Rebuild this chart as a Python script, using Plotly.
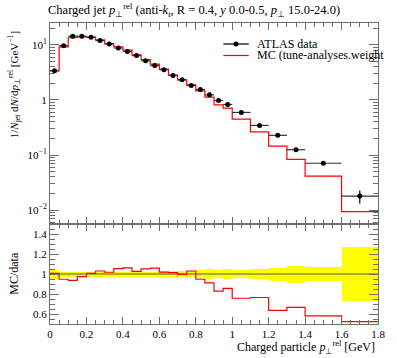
import plotly.graph_objects as go

# ---------------- data ----------------
bin_edges = [0.0, 0.05, 0.1, 0.15, 0.2, 0.25, 0.3, 0.35, 0.4, 0.45, 0.5, 0.55, 0.6,
             0.65, 0.7, 0.75, 0.8, 0.85, 0.9, 0.95, 1.0, 1.1, 1.2, 1.3, 1.4, 1.6, 1.8]
atlas_data = [3.38, 9.7, 14.4, 14.4, 13.8, 12.0, 10.4, 8.8, 7.6, 6.4, 5.15, 4.22, 3.55,
              2.78, 2.33, 1.83, 1.55, 1.24, 0.98, 0.83, 0.594, 0.345, 0.228, 0.125,
              0.071, 0.018]
atlas_rel_err = [0.045, 0.025, 0.025, 0.025, 0.025, 0.025, 0.025, 0.025, 0.025, 0.025,
                 0.025, 0.025, 0.035, 0.035, 0.03, 0.03, 0.04, 0.048, 0.04, 0.05,
                 0.037, 0.047, 0.065, 0.085, 0.072, 0.267]
mc_values = [3.40, 9.19, 13.49, 14.01, 13.90, 12.36, 10.58, 9.27, 8.06, 6.57, 5.41,
             4.47, 3.62, 2.82, 2.32, 1.885, 1.469, 1.131, 0.813, 0.711, 0.450, 0.264,
             0.145, 0.0834, 0.0413, 0.00941]

main_ytick_vals = [0.01, 0.1, 1, 10]
main_ytick_text = ["10<sup>\u22122</sup>", "10<sup>\u22121</sup>", "1", "10<sup>1</sup>"]
ratio_ytick_vals = [0.6, 0.8, 1.0, 1.2, 1.4]
ratio_ytick_text = ["0.6", "0.8", "1", "1.2", "1.4"]
xtick_vals = [0, 0.2, 0.4, 0.6, 0.8, 1.0, 1.2, 1.4, 1.6, 1.8]
xtick_text = ["0", "0.2", "0.4", "0.6", "0.8", "1", "1.2", "1.4", "1.6", "1.8"]

# ---------------- derived ----------------
centers = [(a + b) / 2 for a, b in zip(bin_edges[:-1], bin_edges[1:])]
half_w = [(b - a) / 2 for a, b in zip(bin_edges[:-1], bin_edges[1:])]
widths = [b - a for a, b in zip(bin_edges[:-1], bin_edges[1:])]
abs_err = [v * e for v, e in zip(atlas_data, atlas_rel_err)]
ratio = [m / d for m, d in zip(mc_values, atlas_data)]

W, H = 397, 358
ML, MR, MT, MB = 50, 12, 23, 34
PW, PH = W - ML - MR, H - MT - MB
split = 100 / PH

def px(x):
    return (x - ML) / PW

def py(y):
    return 1 - (y - MT) / PH

FONT = "Liberation Serif"
AX = "#6e6e6e"

fig = go.Figure()

# main panel: MC step
fig.add_trace(go.Scatter(
    x=bin_edges, y=mc_values + [mc_values[-1]], mode="lines",
    line=dict(color="#ff0000", width=1.2, shape="hv"),
    xaxis="x", yaxis="y", showlegend=False, hoverinfo="skip"))

# main panel: data
fig.add_trace(go.Scatter(
    x=centers, y=atlas_data, mode="markers",
    marker=dict(color="black", size=5),
    error_x=dict(type="data", array=half_w, width=0, thickness=1.2, color="#333333"),
    error_y=dict(type="data", array=abs_err, width=0, thickness=1.2, color="black"),
    xaxis="x", yaxis="y", showlegend=False))

# ratio panel: data uncertainty band
fig.add_trace(go.Bar(
    x=centers, y=[2 * e for e in atlas_rel_err], base=[1 - e for e in atlas_rel_err],
    width=widths, marker=dict(color="#ffff00", line=dict(width=0)),
    xaxis="x2", yaxis="y2", showlegend=False, hoverinfo="skip"))

# ratio panel: line at 1
fig.add_trace(go.Scatter(
    x=[bin_edges[0], bin_edges[-1]], y=[1, 1], mode="lines",
    line=dict(color="#555555", width=1), xaxis="x2", yaxis="y2",
    showlegend=False, hoverinfo="skip"))

# ratio panel: MC/data step
fig.add_trace(go.Scatter(
    x=bin_edges, y=ratio + [ratio[-1]], mode="lines",
    line=dict(color="#ff0000", width=1.2, shape="hv"),
    xaxis="x2", yaxis="y2", showlegend=False, hoverinfo="skip"))

common_x = dict(range=[0, 1.8], showline=True, linecolor=AX, linewidth=1, mirror="allticks",
                ticks="inside", ticklen=7, tickcolor=AX, tickvals=xtick_vals,
                minor=dict(dtick=0.05, tick0=0, ticklen=4, tickcolor=AX, ticks="inside"),
                showgrid=False, zeroline=False)

fig.update_layout(
    width=W, height=H, margin=dict(l=ML, r=MR, t=MT, b=MB),
    paper_bgcolor="white", plot_bgcolor="white",
    font=dict(family=FONT, size=11, color="black"),
    bargap=0,
    xaxis=dict(**common_x, anchor="y", showticklabels=False),
    xaxis2=dict(**common_x, anchor="y2", ticktext=xtick_text, matches="x",
                tickfont=dict(size=11)),
    yaxis=dict(type="log", domain=[split, 1], range=[-2.252, 1.398], anchor="x",
               showline=True, linecolor=AX, linewidth=1, mirror="allticks",
               ticks="inside", ticklen=9, tickcolor=AX,
               tickvals=main_ytick_vals, ticktext=main_ytick_text,
               minor=dict(tickvals=[m * 10 ** k for k in (-3, -2, -1, 0, 1)
                                    for m in range(2, 10)],
                          ticklen=5, tickcolor=AX, ticks="inside"),
               showgrid=False, zeroline=False, tickfont=dict(size=11)),
    yaxis2=dict(domain=[0, split], range=[0.5, 1.5], anchor="x2",
                showline=True, linecolor=AX, linewidth=1, mirror="allticks",
                ticks="inside", ticklen=9, tickcolor=AX,
                tickvals=ratio_ytick_vals, ticktext=ratio_ytick_text,
                minor=dict(dtick=0.05, tick0=0, ticklen=5, tickcolor=AX, ticks="inside"),
                showgrid=False, zeroline=False, tickfont=dict(size=11)),
)

ann = []
ann.append(dict(text="Charged jet <i>p</i><sub>\u22a5</sub><sup>rel</sup> (anti-<i>k</i><sub><i>t</i></sub>, R = 0.4, <i>y</i> 0.0-0.5, <i>p</i><sub>\u22a5</sub> 15.0-24.0)",
                xref="paper", yref="paper", x=px(46), y=py(10), xanchor="left",
                yanchor="middle", showarrow=False, font=dict(size=12.5)))
ann.append(dict(text="1/<i>N</i><sub>jet</sub> d<i>N</i>/d<i>p</i><sub>\u22a5</sub><sup>rel</sup> [GeV<sup>\u22121</sup>]",
                xref="paper", yref="paper", x=px(13), y=py(29), xanchor="center",
                yanchor="top", textangle=-90, showarrow=False, font=dict(size=11)))
ann.append(dict(text="MC/data", xref="paper", yref="paper", x=px(13), y=py(273),
                xanchor="center", yanchor="middle", textangle=-90, showarrow=False,
                font=dict(size=12)))
ann.append(dict(text="Charged particle <i>p</i><sub>\u22a5</sub><sup>rel</sup> [GeV]",
                xref="paper", yref="paper", x=px(384), y=py(347), xanchor="right",
                yanchor="middle", showarrow=False, font=dict(size=12)))
ann.append(dict(text="ATLAS data", xref="paper", yref="paper", x=px(259), y=py(44),
                xanchor="left", yanchor="middle", showarrow=False, font=dict(size=12)))
ann.append(dict(text="MC (tune-analyses.weight", xref="paper", yref="paper", x=px(259),
                y=py(55.5), xanchor="left", yanchor="middle", showarrow=False,
                font=dict(size=12)))
fig.update_layout(annotations=ann)

shapes = [
    dict(type="line", xref="paper", yref="paper", x0=px(227), x1=px(253), y0=py(44),
         y1=py(44), line=dict(color="black", width=1.2)),
    dict(type="circle", xref="paper", yref="paper", xsizemode="pixel", ysizemode="pixel",
         xanchor=px(240), yanchor=py(44), x0=-2.5, x1=2.5, y0=-2.5, y1=2.5,
         fillcolor="black", line=dict(color="black", width=0)),
    dict(type="line", xref="paper", yref="paper", x0=px(227), x1=px(253), y0=py(55.5),
         y1=py(55.5), line=dict(color="#ff0000", width=1.2)),
]
fig.update_layout(shapes=shapes)

fig.write_html("out.html", config={"displayModeBar": False},
               post_script="document.body.style.margin='0px';document.body.style.padding='0px';")
